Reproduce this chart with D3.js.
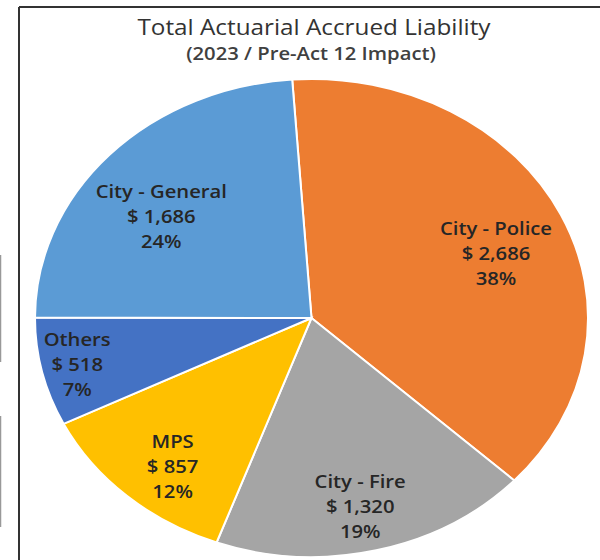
<!DOCTYPE html>
<html>
<head>
<meta charset="utf-8">
<script src="https://cdn.jsdelivr.net/npm/d3@7"></script>
<style>
  body { margin: 0; background: #fff; }
  svg { display: block; }
</style>
</head>
<body>
<div id="chart"></div>
<script>
// values ($ millions)
const categories = ["City - Police", "City - Fire", "MPS", "Others", "City - General"];
const values = [2686, 1320, 857, 518, 1686];
const percents = ["38%", "19%", "12%", "7%", "24%"];
const colors = ["#ED7D31", "#A5A5A5", "#FFC000", "#4472C4", "#5B9BD5"];

const width = 600, height = 560;
const cx = 311.5, cy = 318, rx = 276.5, ry = 239; // the pie is a bit stretched wide
const stretch = rx / ry; // text got stretched the same way
// label placement (Excel "best fit"): fraction of radius + small angle nudge in degrees
const labelRadius = [0.72, 0.81, 0.80, 0.87, 0.69];
const labelNudge = [3.5, 1, -3, 0, -5];

const svg = d3.select("#chart").append("svg")
    .attr("width", width)
    .attr("height", height);

// frame lines from the screenshot
svg.append("line").attr("x1", 19).attr("y1", 7).attr("x2", 19).attr("y2", height)
    .attr("stroke", "#333").attr("stroke-width", 2);
svg.append("line").attr("x1", 19).attr("y1", 7).attr("x2", width).attr("y2", 7)
    .attr("stroke", "#333").attr("stroke-width", 2);
svg.append("line").attr("x1", 0.5).attr("y1", 255).attr("x2", 0.5).attr("y2", 362)
    .attr("stroke", "#999").attr("stroke-width", 1.5);
svg.append("line").attr("x1", 0.5).attr("y1", 416).attr("x2", 0.5).attr("y2", 527)
    .attr("stroke", "#999").attr("stroke-width", 1.5);

// titles
svg.append("text")
    .attr("transform", `translate(314,35) scale(${stretch},1)`)
    .attr("text-anchor", "middle")
    .style("font-family", "'Open Sans', sans-serif")
    .style("font-size", "21px")
    .style("font-weight", 500)
    .style("fill", "#333")
    .text("Total Actuarial Accrued Liability");
svg.append("text")
    .attr("transform", `translate(311,60) scale(${stretch},1)`)
    .attr("text-anchor", "middle")
    .style("font-family", "'Open Sans', sans-serif")
    .style("font-size", "17.5px")
    .style("font-weight", 600)
    .style("fill", "#404040")
    .text("(2023 / Pre-Act 12 Impact)");

const pie = d3.pie()
    .sort(null)
    .startAngle(-4 * Math.PI / 180)
    .endAngle(356 * Math.PI / 180);
const arcs = pie(values);

const arc = d3.arc().innerRadius(0).outerRadius(ry);

const g = svg.append("g")
    .attr("transform", `translate(${cx},${cy}) scale(${stretch},1)`);

g.selectAll("path")
    .data(arcs)
    .enter().append("path")
    .attr("d", arc)
    .attr("fill", (d, i) => colors[i])
    .attr("stroke", "#fff")
    .attr("stroke-width", 2)
    .attr("vector-effect", "non-scaling-stroke");

const fmt = d3.format(",");

const labels = svg.append("g").selectAll("text")
    .data(arcs)
    .enter().append("text")
    .attr("text-anchor", "middle")
    .style("font-family", "'Open Sans', sans-serif")
    .style("font-size", "17.5px")
    .style("font-weight", 600)
    .style("fill", "#262626")
    .attr("transform", (d, i) => {
        const a = (d.startAngle + d.endAngle) / 2 + labelNudge[i] * Math.PI / 180;
        const r = labelRadius[i];
        const x = cx + Math.sin(a) * r * rx;
        const y = cy - Math.cos(a) * r * ry;
        return `translate(${x},${y}) scale(${stretch},1)`;
    });

labels.each(function(d, i) {
    const lines = [categories[i], "$ " + fmt(values[i]), percents[i]];
    d3.select(this).selectAll("tspan")
        .data(lines)
        .enter().append("tspan")
        .attr("x", 0)
        .attr("y", (t, j) => (j - 1) * 25)
        .attr("dy", "0.36em")
        .text(t => t);
});
</script>
</body>
</html>
